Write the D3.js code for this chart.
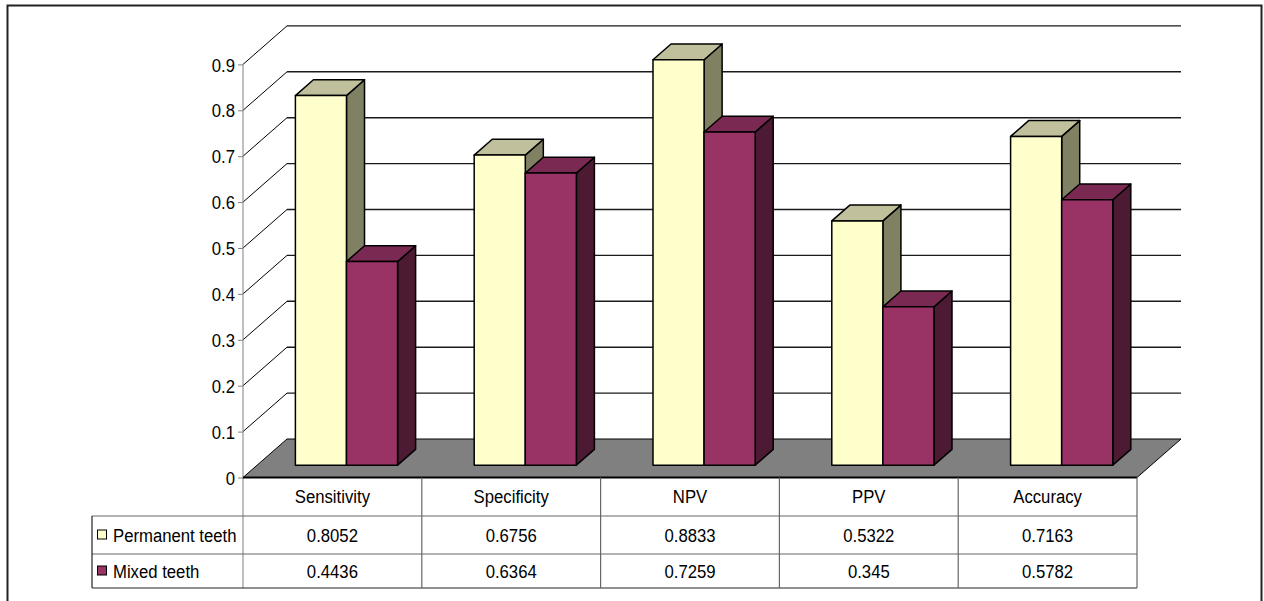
<!DOCTYPE html>
<html>
<head>
<meta charset="utf-8">
<script src="https://cdn.jsdelivr.net/npm/d3@7"></script>
<style>
  html, body { margin: 0; padding: 0; background: #fff; }
  svg { display: block; }
  text { font-family: "Liberation Sans", Arial, sans-serif; fill: #000; }
</style>
</head>
<body>
<svg id="chart" width="1264" height="601"></svg>
<script>
// Diagnostic measures per tooth group
const categories = ["Sensitivity", "Specificity", "NPV", "PPV", "Accuracy"];
const seriesNames = ["Permanent teeth", "Mixed teeth"];
const permanentValues = [0.8052, 0.6756, 0.8833, 0.5322, 0.7163];
const mixedValues = [0.4436, 0.6364, 0.7259, 0.345, 0.5782];
const yTicks = [0, 0.1, 0.2, 0.3, 0.4, 0.5, 0.6, 0.7, 0.8, 0.9];
const valueLabels = [
  ["0.8052", "0.6756", "0.8833", "0.5322", "0.7163"],
  ["0.4436", "0.6364", "0.7259", "0.345", "0.5782"]
];

const seriesValues = [permanentValues, mixedValues];
const faceColors = [
  { front: "#FFFFCC", top: "#C0C09C", side: "#808062" },
  { front: "#993366", top: "#7A2952", side: "#4C1A33" }
];

const svg = d3.select("#chart");
const FONT = 19, SX = 0.88;   // text is drawn slightly condensed

// plot geometry
const left = 243, right = 1137;
const DX = 44, DY = -38.5;          // depth offset of the back wall
const d0 = 0.32, d1 = 0.73;         // bar depth span within the floor

const x = d3.scaleBand().domain(categories).range([left, right]);
const xs = d3.scaleBand().domain(seriesNames).range([0, x.bandwidth()])
  .paddingInner(0).paddingOuter(0.75);
const y = d3.scaleLinear().domain([0, 0.9]).range([477.5, 64.4]);

const proj = (px, v, d) => [px + d * DX, y(v) + d * DY];
const pts = arr => arr.map(p => p.join(",")).join(" ");

// outer frame
svg.append("rect").attr("x", 7.5).attr("y", 5.5).attr("width", 1254).attr("height", 610)
  .attr("fill", "none").attr("stroke", "#222").attr("stroke-width", 2);

// walls: left-wall diagonals and back gridlines
const grid = svg.append("g");
yTicks.filter(v => v > 0).forEach(v => {
  const a = proj(left, v, 0), b = proj(left, v, 1), c = proj(right, v, 1);
  grid.append("line").attr("x1", a[0]).attr("y1", a[1]).attr("x2", b[0]).attr("y2", b[1])
    .attr("stroke", "#000").attr("stroke-width", 1);
  grid.append("line").attr("x1", b[0]).attr("y1", b[1]).attr("x2", c[0]).attr("y2", c[1])
    .attr("stroke", "#1a1a1a").attr("stroke-width", 1.4);
});

// floor
svg.append("polygon")
  .attr("points", pts([proj(left, 0, 0), proj(left, 0, 1), proj(right, 0, 1), proj(right, 0, 0)]))
  .attr("fill", "#808080").attr("stroke", "#000").attr("stroke-width", 1);

// bars
const bars = svg.append("g");
categories.forEach((cat, ci) => {
  seriesNames.forEach((s, si) => {
    const v = seriesValues[si][ci];
    const x0 = x(cat) + xs(s), x1 = x0 + xs.bandwidth();
    const col = faceColors[si];
    const g = bars.append("g").attr("stroke", "#000").attr("stroke-width", 1.5)
      .attr("stroke-linejoin", "round");
    g.append("polygon")
      .attr("points", pts([proj(x1, v, d0), proj(x1, 0, d0), proj(x1, 0, d1), proj(x1, v, d1)]))
      .attr("fill", col.side);
    g.append("polygon")
      .attr("points", pts([proj(x0, v, d0), proj(x1, v, d0), proj(x1, v, d1), proj(x0, v, d1)]))
      .attr("fill", col.top);
    g.append("polygon")
      .attr("points", pts([proj(x0, v, d0), proj(x1, v, d0), proj(x1, 0, d0), proj(x0, 0, d0)]))
      .attr("fill", col.front);
  });
});

// value axis
const axis = svg.append("g").attr("transform", `translate(${left},0)`)
  .call(d3.axisLeft(y).tickValues(yTicks).tickSize(5).tickSizeOuter(0)
    .tickFormat(d => d === 0 ? "0" : d3.format(".1f")(d)));
axis.select(".domain").attr("stroke", "#808080").attr("d", `M0,${y(0.9)}V588`);
axis.selectAll(".tick line").attr("stroke", "#808080");
axis.selectAll(".tick text")
  .attr("x", null).attr("dy", "0.35em")
  .attr("transform", `translate(-8,0) scale(${SX},1)`)
  .style("font-size", FONT + "px").style("font-family", '"Liberation Sans", Arial, sans-serif');

// floor front edge
svg.append("line").attr("x1", left).attr("x2", right).attr("y1", y(0)).attr("y2", y(0))
  .attr("stroke", "#000").attr("stroke-width", 2.2);

// data table
const rowY = [477.5, 516, 554, 588];
const legendLeft = 92;
const table = svg.append("g").attr("stroke", "#666").attr("stroke-width", 1.2);
[516, 554].forEach(ry => table.append("line").attr("x1", legendLeft).attr("x2", right)
  .attr("y1", ry).attr("y2", ry));
table.append("line").attr("x1", legendLeft).attr("x2", right).attr("y1", 588).attr("y2", 588)
  .attr("stroke", "#222");
table.append("line").attr("x1", legendLeft).attr("x2", legendLeft).attr("y1", 516).attr("y2", 588)
  .attr("stroke", "#222");
categories.forEach(c => table.append("line").attr("x1", x(c) + x.bandwidth()).attr("x2", x(c) + x.bandwidth())
  .attr("y1", rowY[0]).attr("y2", 588));

const addText = (tx, ty, str, anchor) => svg.append("text")
  .attr("transform", `translate(${tx},${ty}) scale(${SX},1)`)
  .attr("text-anchor", anchor).attr("dy", "0.35em")
  .style("font-size", FONT + "px").text(str);

categories.forEach(c => addText(x(c) + x.bandwidth() / 2, (rowY[0] + rowY[1]) / 2, c, "middle"));
seriesNames.forEach((s, si) => {
  const cy = (rowY[si + 1] + rowY[si + 2]) / 2;
  svg.append("rect").attr("x", 97.5).attr("y", cy - 5).attr("width", 9).attr("height", 9)
    .attr("fill", faceColors[si].front).attr("stroke", "#000").attr("stroke-width", 1);
  addText(113, cy, s, "start");
  categories.forEach((c, ci) => addText(x(c) + x.bandwidth() / 2, cy, valueLabels[si][ci], "middle"));
});
</script>
</body>
</html>
